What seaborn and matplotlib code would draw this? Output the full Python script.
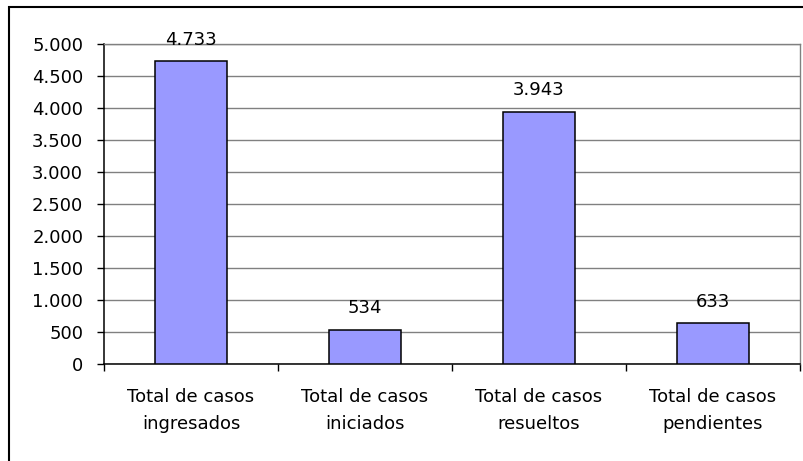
import matplotlib
matplotlib.use("Agg")
import matplotlib.pyplot as plt
import seaborn as sns
import pandas as pd
from matplotlib.ticker import FuncFormatter, FixedLocator
from matplotlib.patches import Rectangle

# data
categorias = ["Total de casos\ningresados", "Total de casos\niniciados",
              "Total de casos\nresueltos", "Total de casos\npendientes"]
casos = [4733, 534, 3943, 633]

df = pd.DataFrame({"categoria": categorias, "casos": casos})

sns.set_theme(style="white")
plt.rcParams["font.family"] = ["DejaVu Sans"]
plt.rcParams["font.size"] = 13

fig = plt.figure(figsize=(8.04, 4.61), dpi=100)
ax = fig.add_axes([104 / 804, 97 / 461, 696 / 804, 320 / 461])

sns.barplot(data=df, x="categoria", y="casos", color="#9999FF", width=0.414,
            edgecolor="black", linewidth=1.1, saturation=1, ax=ax, zorder=3)

def miles(v, pos=None):
    return f"{int(round(v)):,}".replace(",", ".")

ax.set_ylim(0, 5000)
ax.set_xlim(-0.5, 3.5)
ax.yaxis.set_major_locator(FixedLocator(range(0, 5001, 500)))
ax.yaxis.set_major_formatter(FuncFormatter(miles))
ax.grid(axis="y", color="#808080", linewidth=1, zorder=0)
ax.set_axisbelow(True)

ax.bar_label(ax.containers[0], labels=[miles(v) for v in casos],
             padding=9, fontsize=13, color="black")

ax.set_xlabel("")
ax.set_ylabel("")
ax.tick_params(axis="y", which="major", direction="out", length=5, width=1,
               color="black", pad=10, left=True, labelsize=13, labelcolor="black")
ax.tick_params(axis="x", which="major", length=0, pad=17, labelsize=13,
               labelcolor="black")
ax.xaxis.set_minor_locator(FixedLocator([-0.5, 0.5, 1.5, 2.5, 3.5]))
ax.tick_params(axis="x", which="minor", direction="out", length=5, width=1,
               color="black", bottom=True)
for lbl in ax.get_xticklabels():
    lbl.set_linespacing(1.65)

for side in ["left", "bottom"]:
    ax.spines[side].set_color("black")
    ax.spines[side].set_linewidth(1.1)
for side in ["top", "right"]:
    ax.spines[side].set_color("#808080")
    ax.spines[side].set_linewidth(1)

# outer chart frame (right and bottom run past the image edge)
fig.patches.append(Rectangle((9 / 804, -0.05), 1.0, (461 - 7) / 461 + 0.05,
                             transform=fig.transFigure, fill=False,
                             edgecolor="black", linewidth=1.5, zorder=10))

fig.savefig("out.png", dpi=100)
